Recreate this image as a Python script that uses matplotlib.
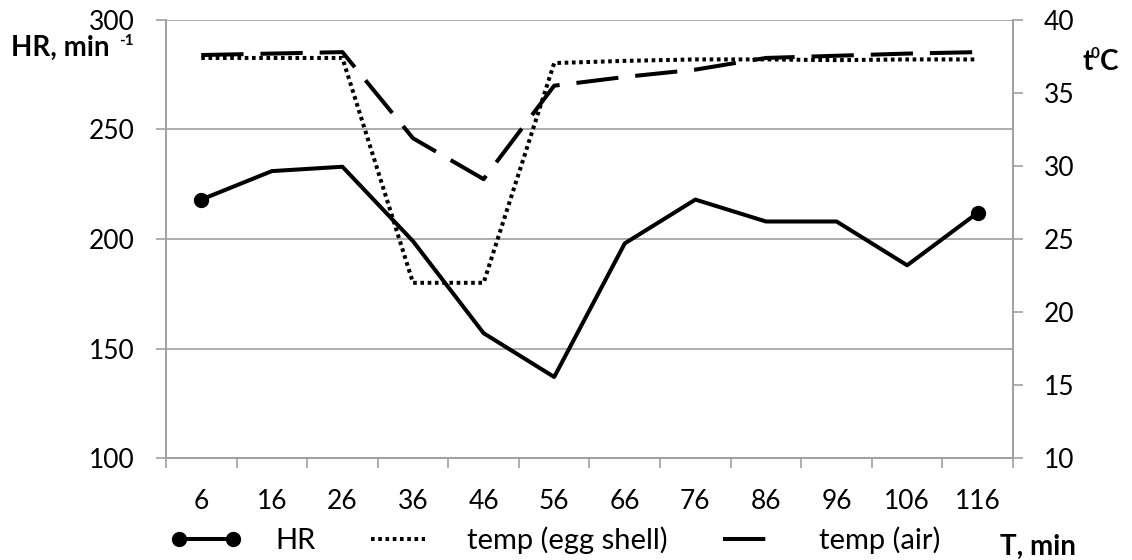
import numpy as np
import matplotlib
matplotlib.use('Agg')
import matplotlib.pyplot as plt

plt.rcParams['font.family'] = ['Lato', 'DejaVu Sans']

# data
times = ['6', '16', '26', '36', '46', '56', '66', '76', '86', '96', '106', '116']
hr = [218, 231, 233, 199, 157, 137, 198, 218, 208, 208, 188, 212]
temp_shell = [37.4, 37.4, 37.4, 22.0, 22.0, 37.05, 37.2, 37.3, 37.3, 37.25, 37.3, 37.3]
temp_air = [37.6, 37.7, 37.8, 31.9, 29.1, 35.5, 36.1, 36.6, 37.4, 37.55, 37.7, 37.8]

grey = '#a0a0a0'
fs = 19
lw = 2.9

fig = plt.figure(figsize=(11.32, 5.6), dpi=100)
ax = fig.add_axes([0.1466, 0.1821, 0.7483, 0.7822])
ax2 = ax.twinx()

x = np.arange(len(times))

l1, = ax.plot(x, hr, color='black', lw=lw, marker='o', markersize=10,
              markevery=[0, len(x) - 1], zorder=3)
l2, = ax2.plot(x, temp_shell, color='black', lw=lw, dashes=(0.9, 0.9),
               dash_capstyle='butt')
l3, = ax2.plot(x, temp_air, color='black', lw=lw, dashes=(10.5, 4.2),
               dash_capstyle='butt')

ax.set_xlim(-0.5, len(x) - 0.5)
ax.set_ylim(100, 300)
ax.set_yticks([100, 150, 200, 250, 300])
ax2.set_ylim(10, 40)
ax2.set_yticks([10, 15, 20, 25, 30, 35, 40])

ax.set_xticks(x)
ax.set_xticklabels(times)
ax.set_xticks(np.arange(len(x) + 1) - 0.5, minor=True)
ax.tick_params(axis='x', which='major', length=0, pad=22, labelsize=fs)
ax.tick_params(axis='x', which='minor', length=7.2, color=grey, width=1.2,
               direction='out')
ax.tick_params(axis='y', length=7.2, color=grey, width=1.2, labelsize=fs, pad=15)
ax2.tick_params(axis='y', length=7.2, color=grey, width=1.2, labelsize=fs, pad=15)

ax.yaxis.grid(True, color=grey, lw=1.2)
ax.set_axisbelow(True)
for a in (ax, ax2):
    a.spines['top'].set_visible(False)
    for s in ('left', 'right', 'bottom'):
        a.spines[s].set_color(grey)
        a.spines[s].set_linewidth(1.2)

# axis titles
fig.text(0.010, 0.900, 'HR, min', fontsize=20, fontweight='bold', va='baseline')
fig.text(0.105, 0.920, '-1', fontsize=11, fontweight='bold', va='baseline')
fig.text(0.956, 0.875, 't', fontsize=20, fontweight='bold', va='baseline')
fig.text(0.9635, 0.896, '0', fontsize=11, fontweight='bold', va='baseline')
fig.text(0.9718, 0.875, 'C', fontsize=20, fontweight='bold', va='baseline')
fig.text(0.883, 0.009, 'T, min', fontsize=20, fontweight='bold', va='baseline')

fig.legend([l1, l2, l3], ['HR', 'temp (egg shell)', 'temp (air)'],
           loc='lower left', bbox_to_anchor=(0.14, -0.01), ncol=3,
           frameon=False, fontsize=21, numpoints=2, handlelength=2.47,
           columnspacing=1.6, handletextpad=1.13, borderaxespad=0)

fig.savefig('out.png', dpi=100)
